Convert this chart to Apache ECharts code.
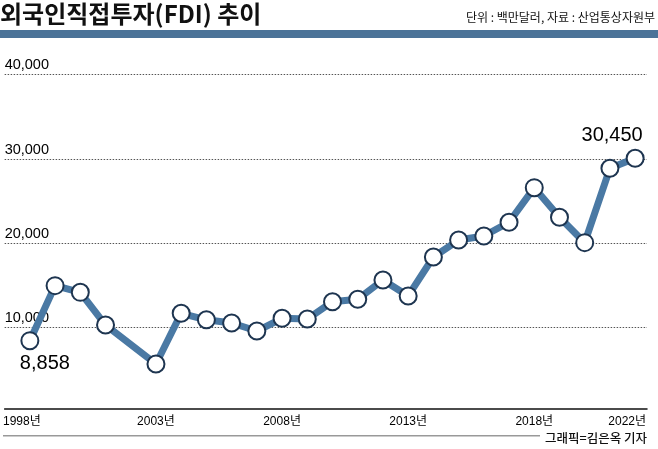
<!DOCTYPE html>
<html><head><meta charset="utf-8">
<script src="https://cdn.jsdelivr.net/npm/echarts@6/dist/echarts.min.js"></script>
<style>html,body{margin:0;padding:0;background:#fff}#c{width:658px;height:449px}</style>
</head><body><div id="c"></div>
<script>
// ---- data ----
const titleText = '외국인직접투자(FDI) 추이';
const unitNote = '단위 : 백만달러, 자료 : 산업통상자원부';
const creditText = '그래픽=김은옥 기자';
const years = [1998,1999,2000,2001,2003,2004,2005,2006,2007,2008,2009,2010,2011,2012,2013,2014,2015,2016,2017,2018,2019,2020,2021,2022];
const values = [8858,15370,14580,10710,6100,12100,11330,10950,10000,11510,11420,13470,13760,16040,14150,18760,20770,21250,22870,26970,23460,20460,29260,30450];
const yTickValues = [10000,20000,30000,40000];
const xTickYears = [1998,2003,2008,2013,2018,2022];
const edgeYears = [1998,2022];

function fmt(v){ return String(v).replace(/\B(?=(\d{3})+(?!\d))/g, ','); }

const LATIN = '"Liberation Sans", "Noto Sans CJK KR", sans-serif';

const seriesData = years.map((y, i) => {
  const item = { value: [y, values[i]] };
  if (i === 0) item.label = { show: true, position: 'inside', offset: [15, 23] };
  if (i === years.length - 1) item.label = { show: true, position: 'inside', offset: [-23, -23] };
  return item;
});

const chart = echarts.init(document.getElementById('c'), null, { renderer: 'canvas' });
chart.setOption({
  animation: false,
  backgroundColor: '#fff',
  grid: { left: 3, right: 11, top: 74.5, bottom: 37.4, containLabel: false },
  xAxis: {
    type: 'value', min: 1997, max: 2022.47, offset: -3.3,
    axisLine: { onZero: false, lineStyle: { color: '#111', width: 1.5 } },
    axisTick: { show: false },
    splitLine: { show: false },
    axisLabel: {
      customValues: xTickYears, margin: 7,
      fontSize: 12, fontFamily: LATIN, color: '#000',
      formatter: v => edgeYears.includes(v) ? '{e|' + v + '년}' : v + '년',
      rich: { e: { padding: [0, 16, 0, 0], fontSize: 12, fontFamily: LATIN, color: '#000' } }
    }
  },
  yAxis: [
    {
      type: 'value', min: 0, max: 40000, interval: 10000, position: 'left',
      axisLine: { show: false },
      axisTick: { show: false, customValues: yTickValues },
      axisLabel: {
        customValues: yTickValues, inside: true, margin: 0, align: 'left', verticalAlign: 'bottom',
        padding: [0, 0, 2, 0], fontSize: 14.5, fontFamily: LATIN, color: '#000',
        formatter: v => fmt(v)
      },
      splitLine: { show: true, lineStyle: { type: [1.5, 1.5], color: '#555', width: 1 } }
    },
    { type: 'value', min: 462, max: 40365, show: false, splitLine: { show: false } }
  ],
  series: [{
    type: 'line', xAxisIndex: 0, yAxisIndex: 1, data: seriesData,
    symbol: 'circle', symbolSize: 17, z: 3,
    lineStyle: { color: '#4a79a4', width: 7 },
    itemStyle: { color: '#fff', borderColor: '#1e3550', borderWidth: 2 },
    label: { show: false, formatter: p => fmt(p.value[1]), fontSize: 20, fontFamily: LATIN, color: '#000' }
  }],
  graphic: [
    { type: 'text', x: 0, y: 13.5, style: { text: titleText, font: 'bold 24px "Noto Sans CJK KR"', fill: '#111', textAlign: 'left', textVerticalAlign: 'middle' } },
    { type: 'text', x: 655, y: 17, style: { text: unitNote, font: '12px "Noto Sans CJK KR"', fill: '#111', textAlign: 'right', textVerticalAlign: 'middle' } },
    { type: 'rect', shape: { x: 0, y: 30, width: 658, height: 8 }, style: { fill: '#4b7398' } },
    { type: 'line', shape: { x1: 3, y1: 435.7, x2: 540, y2: 435.7 }, style: { stroke: '#999', lineWidth: 1.5 } },
    { type: 'text', x: 647, y: 438, style: { text: creditText, font: '500 12.5px "Noto Sans CJK KR"', fill: '#111', textAlign: 'right', textVerticalAlign: 'middle' } }
  ]
});
</script></body></html>
